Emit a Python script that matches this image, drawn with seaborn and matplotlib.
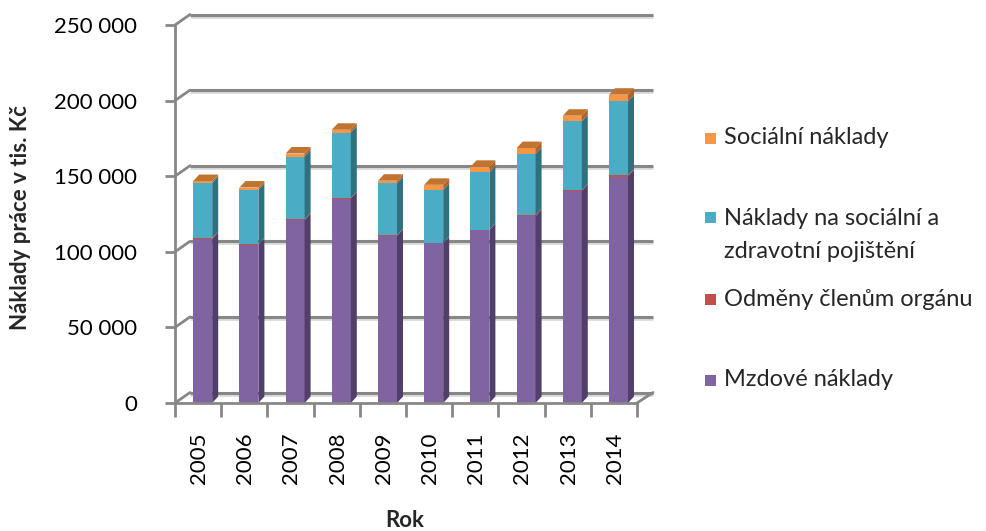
import numpy as np
import pandas as pd
import matplotlib
matplotlib.use("Agg")
import matplotlib.pyplot as plt
import seaborn as sns
from matplotlib.patches import Polygon, Rectangle
from matplotlib.lines import Line2D
import matplotlib.transforms as mtransforms

# ---------------- data ----------------
years = ["2005", "2006", "2007", "2008", "2009", "2010", "2011", "2012", "2013", "2014"]
mzdove = [108500, 104600, 121000, 135200, 110600, 105700, 114500, 123500, 140300, 149800]
odmeny = [700, 300, 400, 200, 300, 200, 200, 800, 300, 800]
pojisteni = [36400, 36100, 41600, 43500, 34300, 35100, 37800, 40300, 45600, 48900]
socialni = [1200, 1500, 2000, 1800, 1800, 3300, 3700, 4000, 3800, 4400]

series_labels = ["Mzdové náklady", "Odměny členům orgánu",
                 "Náklady na sociální a\nzdravotní pojištění", "Sociální náklady"]
y_ticks = [0, 50000, 100000, 150000, 200000, 250000]
y_label = "Náklady práce v tis. Kč"
x_label = "Rok"

# ---------------- style ----------------
front_cols = ["#8064A2", "#C0504D", "#4BACC6", "#F79646"]
side_cols = ["#503F6B", "#7E3230", "#30707F", "#B0632A"]
top_col = "#C0742F"
axis_col = "#878787"

sns.set_theme(style="white")
plt.rcParams['font.family'] = ['Lato', 'DejaVu Sans']

W, H = 987, 531
fig = plt.figure(figsize=(W / 100, H / 100), dpi=100)
ax_left, ax_right, ax_top, ax_bot = 175, 637, 25, 403
ax = fig.add_axes([ax_left / W, (H - ax_bot) / H, (ax_right - ax_left) / W, (ax_bot - ax_top) / H])

series = [mzdove, odmeny, pojisteni, socialni]
cum = np.cumsum(np.array(series, dtype=float), axis=0)

bar_w = 0.41
# draw cumulative stacks from top to bottom so each layer shows
for k in reversed(range(4)):
    sns.barplot(x=years, y=cum[k], color=front_cols[k], saturation=1, width=bar_w,
                ax=ax, zorder=3, linewidth=0, edgecolor="none")

xmin, xmax = -0.60, 9.40
ymax = 250000
ax.set_xlim(xmin, xmax)
ax.set_ylim(0, ymax)

# 3D depth in data units
px_per_x = (ax_right - ax_left) / (xmax - xmin)
px_per_y = (ax_bot - ax_top) / ymax
dx = 6.0 / px_per_x
dy = 6.5 / px_per_y

for i in range(len(years)):
    xr = i + bar_w / 2
    xl = i - bar_w / 2
    y0 = 0.0
    for k in range(4):
        y1 = cum[k][i]
        poly = Polygon([(xr, y0), (xr + dx, y0 + dy), (xr + dx, y1 + dy), (xr, y1)],
                       closed=True, facecolor=side_cols[k], edgecolor="none", zorder=3)
        ax.add_patch(poly)
        y0 = y1
    top = cum[3][i]
    ax.add_patch(Polygon([(xl, top), (xl + dx, top + dy), (xr + dx, top + dy), (xr, top)],
                         closed=True, facecolor=top_col, edgecolor="none", zorder=3))

# back wall gridlines (offset for depth)
back = ax.transData + mtransforms.ScaledTranslation(15 / 100, 10.5 / 100, fig.dpi_scale_trans)
shadow = ax.transData + mtransforms.ScaledTranslation(15 / 100, 8.5 / 100, fig.dpi_scale_trans)
for v in y_ticks:
    ax.plot([xmin, xmax + 0.02], [v, v], color="#dadada", lw=2, transform=shadow,
            zorder=0.9, clip_on=False, solid_capstyle="butt")
    ax.plot([xmin, xmax + 0.02], [v, v], color=axis_col, lw=2.2, transform=back,
            zorder=1, clip_on=False, solid_capstyle="butt")

# diagonals from the front axis to the back wall
fig.canvas.draw()
ident = mtransforms.IdentityTransform()
for v in y_ticks:
    p = ax.transData.transform((xmin, v))
    fig.add_artist(Line2D([p[0], p[0] + 15], [p[1], p[1] + 10.5], color=axis_col, lw=2,
                          transform=ident))
p = ax.transData.transform((xmax, 0))
fig.add_artist(Line2D([p[0], p[0] + 16], [p[1], p[1] + 10.5], color=axis_col, lw=2,
                      transform=ident))

# axes / ticks
for s in ["top", "right"]:
    ax.spines[s].set_visible(False)
for s in ["left", "bottom"]:
    ax.spines[s].set_color(axis_col)
    ax.spines[s].set_linewidth(2)
    ax.spines[s].set_zorder(4)

ax.set_yticks(y_ticks)
ax.set_yticklabels([f"{v:,}".replace(",", " ") for v in y_ticks], fontsize=16, color="black")
ax.tick_params(axis="y", which="major", length=7, width=2, color=axis_col, pad=20, left=True)

ax.set_xticks([i - 0.08 for i in range(len(years))])
ax.set_xticklabels(years, rotation=90, fontsize=16, color="black")
ax.set_xticks([xmin + k for k in range(len(years) + 1)], minor=True)
ax.tick_params(axis="x", which="major", length=0, pad=21)
ax.tick_params(axis="x", which="minor", length=10, width=2, color=axis_col, bottom=True)
ax.grid(False)

ax.set_ylabel(y_label, fontsize=16, fontweight="bold")
ax.yaxis.set_label_coords((31 - ax_left) / (ax_right - ax_left), (ax_bot - 218) / (ax_bot - ax_top))
ax.set_xlabel(x_label, fontsize=16, fontweight="bold")
ax.xaxis.set_label_coords((405 - ax_left) / (ax_right - ax_left), (ax_bot - 510) / (ax_bot - ax_top))

# legend (manual, Excel-like placement)
leg_items = [(3, 138, 138), (2, 217, 235), (1, 299, 299), (0, 380, 380)]
msz = 11
for k, my, ty in leg_items:
    fig.add_artist(Rectangle(((711 - msz / 2) / W, (H - my - msz / 2) / H), msz / W, msz / H,
                             transform=fig.transFigure, facecolor=front_cols[k], edgecolor="none"))
    fig.text(724 / W, (H - ty) / H, series_labels[k], fontsize=17, va="center", ha="left",
             linespacing=1.65)

fig.savefig("out.png", dpi=100)
